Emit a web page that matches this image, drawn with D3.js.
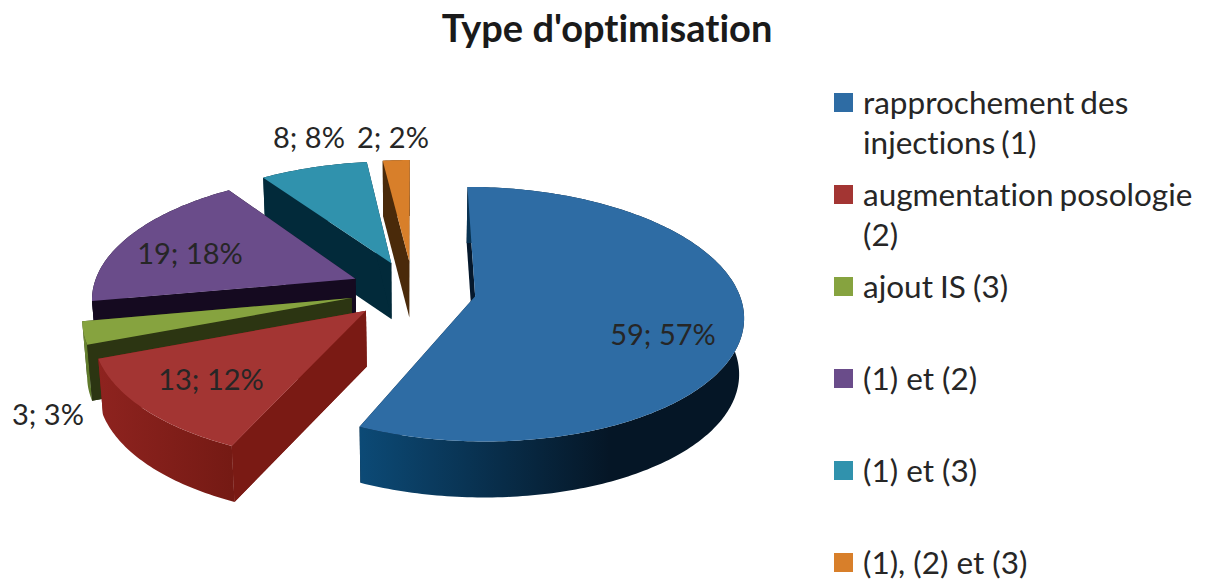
<!DOCTYPE html>
<html><head><meta charset="utf-8">
<script src="https://cdnjs.cloudflare.com/ajax/libs/d3/7.8.5/d3.min.js"></script>
<style>html,body{margin:0;background:#fff}svg{display:block}text{font-family:Lato,"Open Sans",sans-serif;fill:#262626;font-variant-ligatures:none}</style>
</head><body><svg id="c" width="1206" height="586"></svg>
<script>
const title = "Type d'optimisation";
const categories = ["rapprochement des injections (1)","augmentation posologie (2)","ajout IS (3)","(1) et (2)","(1) et (3)","(1), (2) et (3)"];
const legendLines = [["rapprochement des","injections (1)"],["augmentation posologie","(2)"],["ajout IS (3)"],["(1) et (2)"],["(1) et (3)"],["(1), (2) et (3)"]];
const values = [59,13,3,19,8,2];
const percents = [57,12,3,18,8,2];
const topColors = ["#2e6ca4","#a33533","#86a33f","#6a4c8a","#3092ad","#d87f2a"];
const radialColors = ["#05182c","#7a1a14","#2c3512","#150a20","#022a3a","#4a2a0a"];
const arcLeft = ["#0c4a76","#8e231f","#7d9a3d","#150a20","#022a3a","#4a2a0a"];
const arcRight = ["#051626","#751a14","#5f7a2c","#150a20","#022a3a","#4a2a0a"];
const labelXY = [[663,335],[211,380],[48,415],[190,254],[309,138],[393,138]];
const legendWordSpacing = [-2,-2,-1,0,0,0];

const cx=413, cy=290, k=0.14, explode=0.24, depth=56, shrink=0.985;
const xS=d3.scaleLinear().domain([0,1]).range([0,263]);
const yS=d3.scaleLinear().domain([0,1]).range([0,123]);
const svg=d3.select("#c"), defs=svg.append("defs");
const pie=d3.pie().sort(null).value(d=>d).startAngle(0).endAngle(2*Math.PI);
const arcs=pie(values);
const line=d3.line();
function proj(px,py){const d=1+k*py;return [cx+xS(px/d),cy-yS(py/d)];}
function drop(p){return [cx+(p[0]-cx)*shrink,p[1]+depth];}

// back-to-front painting order
const order=[5,4,3,2,1,0];
order.forEach(i=>{
  const a=arcs[i], mid=(a.startAngle+a.endAngle)/2;
  const ox=explode*Math.sin(mid), oy=explode*Math.cos(mid);
  const pt=t=>proj(ox+Math.sin(t),oy+Math.cos(t));
  const apex=proj(ox,oy);
  const n=Math.ceil((a.endAngle-a.startAngle)*60);
  const rim=d3.range(n+1).map(j=>pt(a.startAngle+(a.endAngle-a.startAngle)*j/n));
  const g=svg.append("g");
  const first=rim[0], last=rim[n];
  const grad="g"+i, ext=d3.extent(rim,d=>d[0]);
  const lg=defs.append("linearGradient").attr("id",grad).attr("gradientUnits","userSpaceOnUse")
    .attr("x1",ext[0]).attr("x2",ext[1]).attr("y1",0).attr("y2",0);
  lg.append("stop").attr("offset",0).attr("stop-color",arcLeft[i]);
  lg.append("stop").attr("offset",i==0?0.65:1).attr("stop-color",arcRight[i]);
  // radial walls
  [first,last].forEach(e=>{
    g.append("path").attr("d",line([apex,e,drop(e),drop(apex)])+"Z").attr("fill",radialColors[i]);
  });
  // outer wall
  g.append("path").attr("d",line(rim.concat(rim.map(drop).reverse()))+"Z").attr("fill",`url(#${grad})`);
  // redraw the front radial wall for slices whose end faces the viewer
  if(i>=1 && i<=3) g.append("path").attr("d",line([apex,first,drop(first),drop(apex)])+"Z").attr("fill",radialColors[i]);
  // top face
  g.append("path").attr("d",line([apex].concat(rim))+"Z").attr("fill",topColors[i]);
});

svg.selectAll("text.lab").data(values).join("text").attr("class","lab")
  .attr("x",(d,i)=>labelXY[i][0]).attr("y",(d,i)=>labelXY[i][1]).attr("dy",".35em")
  .attr("text-anchor","middle").attr("font-size",29)
  .text((d,i)=>`${d}; ${percents[i]}%`);

svg.append("text").attr("x",607).attr("y",42).attr("text-anchor","middle")
  .attr("font-size",38).attr("font-weight",700).style("fill","#1a1a1a").text(title);

const rowY=d3.scaleLinear().domain([0,1]).range([103,195]);
categories.forEach((c,i)=>{
  const y=rowY(i);
  svg.append("rect").attr("x",834).attr("y",y-10).attr("width",19).attr("height",19).attr("fill",topColors[i]);
  legendLines[i].forEach((t,j)=>{
    svg.append("text").attr("x",863).attr("y",y+j*40).attr("dy",".35em").attr("font-size",31.5).attr("word-spacing",legendWordSpacing[i]).text(t);
  });
});
</script></body></html>
